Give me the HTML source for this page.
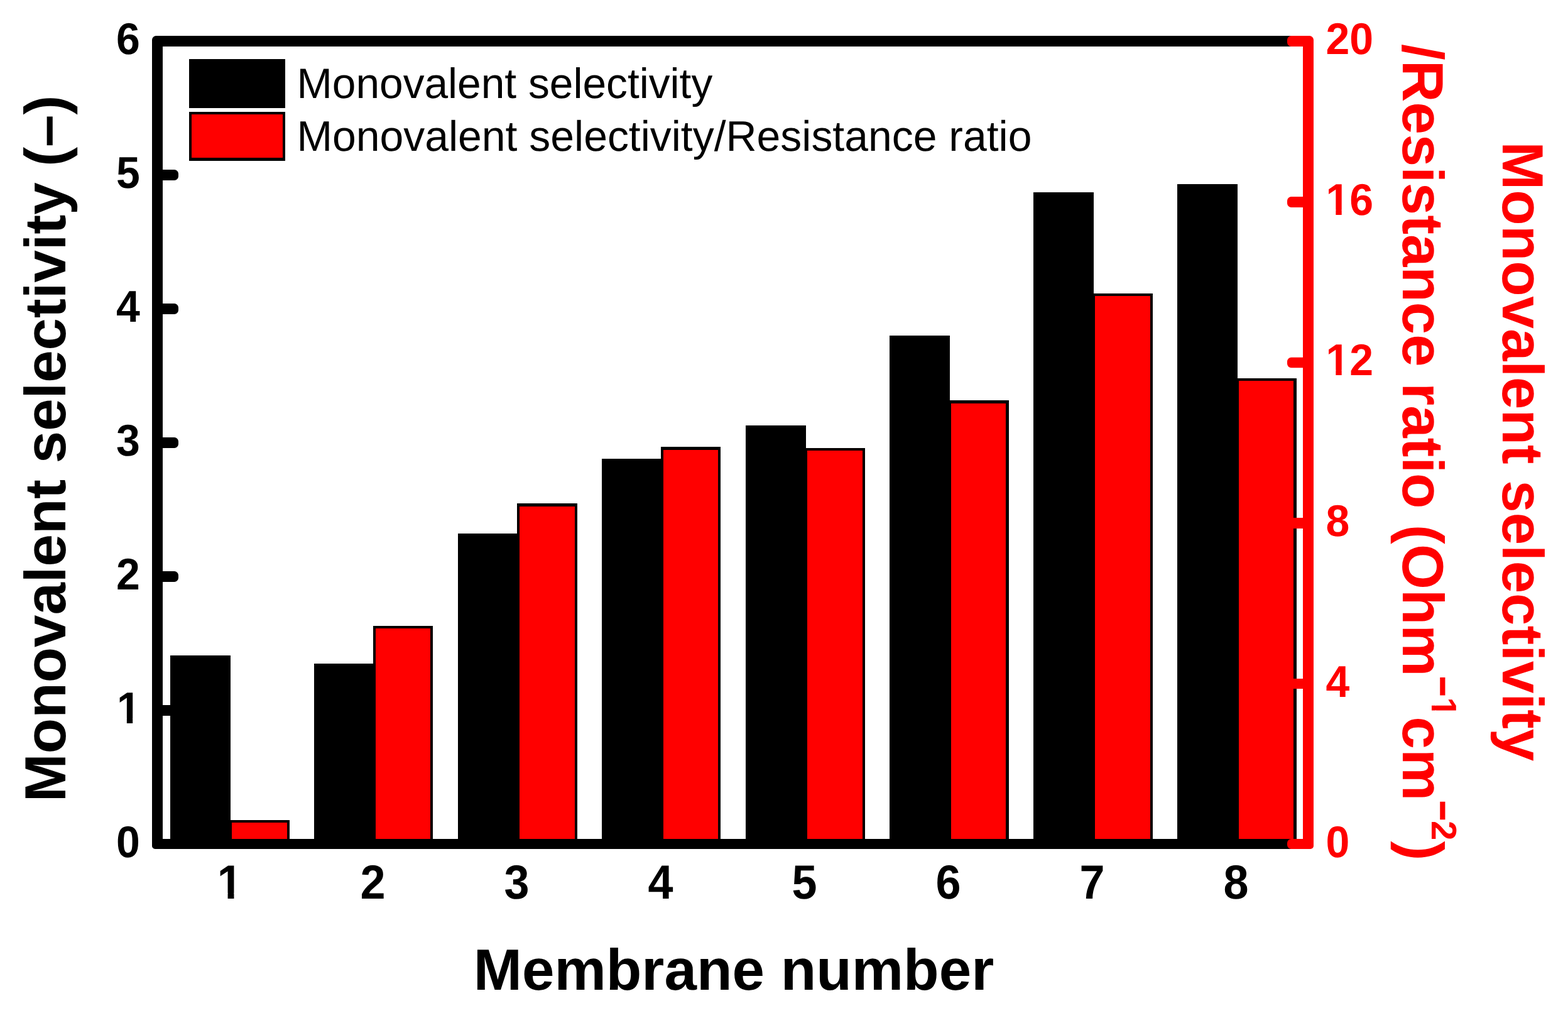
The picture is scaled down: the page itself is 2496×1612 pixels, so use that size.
<!DOCTYPE html>
<html lang="en"><head><meta charset="utf-8"><title>Monovalent selectivity per membrane</title>
<style>
html,body{margin:0;padding:0;background:#fff;}
body{width:2496px;height:1612px;overflow:hidden;}
svg{display:block;}
text{font-family:"Liberation Sans",sans-serif;font-kerning:none;text-rendering:geometricPrecision;}
.b{font-weight:bold;}
</style></head><body>
<svg width="2496" height="1612" viewBox="0 0 2496 1612" role="img" aria-label="Bar chart of monovalent selectivity and monovalent selectivity/resistance ratio for membranes 1 to 8">
<defs>
<clipPath id="c1l"><path d="M-5 -88.4 H42.82 V-7.94 H-5 Z M15.87 -8.94 H25.2 V5 H15.87 Z"/></clipPath>
<clipPath id="c1b"><path d="M-5 -93.6 H45.04 V-8.35 H-5 Z M16.8 -9.35 H26.68 V5 H16.8 Z"/></clipPath>
<clipPath id="c1r"><path d="M-5 -88.4 H80.64 V-7.94 H-5 Z M15.87 -8.94 H25.2 V5 H15.87 Z M37.82 -8.94 H80.64 V26.52 H37.82 Z"/></clipPath>
<clipPath id="c1s"><path clip-rule="evenodd" d="M-50 -200 H1500 V120 H-50 Z M1038.61 -53.16 H1052.78 V-44.4 H1038.61 Z M1060.52 -53.16 H1070.98 V-44.4 H1060.52 Z"/></clipPath>
</defs>
<rect x="0" y="0" width="2496" height="1612" fill="#fff"/>
<g id="bars" shape-rendering="crispEdges">
<rect x="271" y="1043" width="96" height="300" fill="#000000"/>
<rect x="500" y="1056" width="96" height="287" fill="#000000"/>
<rect x="729" y="849" width="96" height="494" fill="#000000"/>
<rect x="958" y="730" width="96" height="613" fill="#000000"/>
<rect x="1187" y="677" width="96" height="666" fill="#000000"/>
<rect x="1416" y="534" width="96" height="809" fill="#000000"/>
<rect x="1645" y="306" width="96" height="1037" fill="#000000"/>
<rect x="1874" y="293" width="96" height="1050" fill="#000000"/>
<rect x="365" y="1305" width="96" height="35" fill="#000000"/>
<rect x="369" y="1309" width="88" height="28" fill="#ff0000"/>
<rect x="594" y="996" width="95" height="344" fill="#000000"/>
<rect x="598" y="1000" width="87" height="337" fill="#ff0000"/>
<rect x="823" y="801" width="96" height="539" fill="#000000"/>
<rect x="827" y="806" width="88" height="531" fill="#ff0000"/>
<rect x="1052" y="711" width="95" height="629" fill="#000000"/>
<rect x="1056" y="716" width="87" height="621" fill="#ff0000"/>
<rect x="1281" y="713" width="96" height="627" fill="#000000"/>
<rect x="1285" y="717" width="88" height="620" fill="#ff0000"/>
<rect x="1510" y="637" width="96" height="703" fill="#000000"/>
<rect x="1514" y="642" width="87" height="695" fill="#ff0000"/>
<rect x="1739" y="467" width="96" height="873" fill="#000000"/>
<rect x="1743" y="471" width="88" height="866" fill="#ff0000"/>
<rect x="1968" y="602" width="96" height="738" fill="#000000"/>
<rect x="1972" y="606" width="87" height="731" fill="#ff0000"/>
</g>
<g id="legend-swatches" shape-rendering="crispEdges">
<rect x="301" y="94" width="153" height="78" fill="#000000"/>
<rect x="301" y="178" width="153" height="78" fill="#000000"/>
<rect x="305" y="182" width="145" height="69" fill="#ff0000"/>
</g>
<path fill="#000000" d="M2080 57 H248.5 A6.5 6.5 0 0 0 242 63.5 V1346.2 A4.8 4.8 0 0 0 246.8 1351 H2080 V1335 H259 V74 H2080 Z"/>
<g id="left-ticks" fill="#000000">
<rect x="250" y="1122" width="34" height="17" rx="6.5"/>
<rect x="250" y="909" width="34" height="17" rx="6.5"/>
<rect x="250" y="696" width="34" height="17" rx="6.5"/>
<rect x="250" y="483" width="34" height="17" rx="6.5"/>
<rect x="250" y="270" width="34" height="17" rx="6.5"/>
</g>
<g id="right-axis" fill="#ff0000">
<path d="M2074 57 H2084.5 A6.5 6.5 0 0 1 2091 63.5 V1346.2 A4.8 4.8 0 0 1 2086.2 1351 H2074 Z"/>
<rect x="2049" y="1335" width="40" height="16" rx="6.5"/>
<rect x="2049" y="1080" width="40" height="16" rx="6.5"/>
<rect x="2049" y="824" width="40" height="17" rx="6.5"/>
<rect x="2049" y="568.8" width="40" height="16.4" rx="6.5"/>
<rect x="2049" y="313" width="40" height="17" rx="6.5"/>
<rect x="2049" y="57" width="40" height="17" rx="6.5"/>
</g>
<g id="left-tick-labels" class="b" font-size="68" fill="#000000">
<text transform="translate(184.98 1364.3) scale(1 1.04)">0</text>
<text transform="translate(185.98 1151.3) scale(1 1.04)" clip-path="url(#c1l)">1</text>
<text transform="translate(184.98 938.3) scale(1 1.04)">2</text>
<text transform="translate(184.98 725.3) scale(1 1.04)">3</text>
<text transform="translate(184.98 512.3) scale(1 1.04)">4</text>
<text transform="translate(184.98 299.3) scale(1 1.04)">5</text>
<text transform="translate(184.98 86.3) scale(1 1.04)">6</text>
</g>
<g id="right-tick-labels" class="b" font-size="68" fill="#ff0000">
<text transform="translate(2110.5 1364.2) scale(1 1.04)">0</text>
<text transform="translate(2110.5 1109) scale(1 1.04)">4</text>
<text transform="translate(2110.5 853) scale(1 1.04)">8</text>
<text transform="translate(2110.5 597) scale(1 1.04)" clip-path="url(#c1r)">12</text>
<text transform="translate(2110.5 342) scale(1 1.04)" clip-path="url(#c1r)">16</text>
<text transform="translate(2110.5 86.3) scale(1 1.04)">20</text>
</g>
<g id="bottom-tick-labels" class="b" font-size="72" fill="#000000">
<text transform="translate(345.78 1430) scale(1 1.06)" clip-path="url(#c1b)">1</text>
<text transform="translate(573.58 1430) scale(1 1.06)">2</text>
<text transform="translate(802.58 1430) scale(1 1.06)">3</text>
<text transform="translate(1031.58 1430) scale(1 1.06)">4</text>
<text transform="translate(1260.58 1430) scale(1 1.06)">5</text>
<text transform="translate(1489.58 1430) scale(1 1.06)">6</text>
<text transform="translate(1718.58 1430) scale(1 1.06)">7</text>
<text transform="translate(1947.58 1430) scale(1 1.06)">8</text>
</g>
<text class="b" font-size="92.6" fill="#000000" x="753.85" y="1575">Membrane number</text>
<text class="b" font-size="92.4" fill="#000000" transform="translate(104 1276.2) rotate(-90)">Monovalent selectivity (–)</text>
<text class="b" font-size="92.4" fill="#ff0000" transform="translate(2392 225.3) rotate(90)">Monovalent selectivity</text>
<text class="b" font-size="92.4" fill="#ff0000" clip-path="url(#c1s)" transform="translate(2232.8 70) rotate(90)">/Resistance ratio (Ohm<tspan font-size="52.2" stroke="#ff0000" stroke-width="2.5" dx="0.7" dy="-46.4">−</tspan><tspan font-size="56.4" dx="2" dy="0">1</tspan><tspan dx="-0.3" dy="46.4">cm</tspan><tspan font-size="52.2" stroke="#ff0000" stroke-width="2.5" dx="0.7" dy="-46.4">−</tspan><tspan font-size="56.4" dx="0.8" dy="0">2</tspan><tspan dx="0.9" dy="46.4">)</tspan></text>
<g id="legend-labels" fill="#000000">
<text font-size="67.66" x="472.4" y="156">Monovalent selectivity</text>
<text font-size="67.92" x="472.4" y="240">Monovalent selectivity/Resistance ratio</text>
</g>
</svg>
</body></html>
